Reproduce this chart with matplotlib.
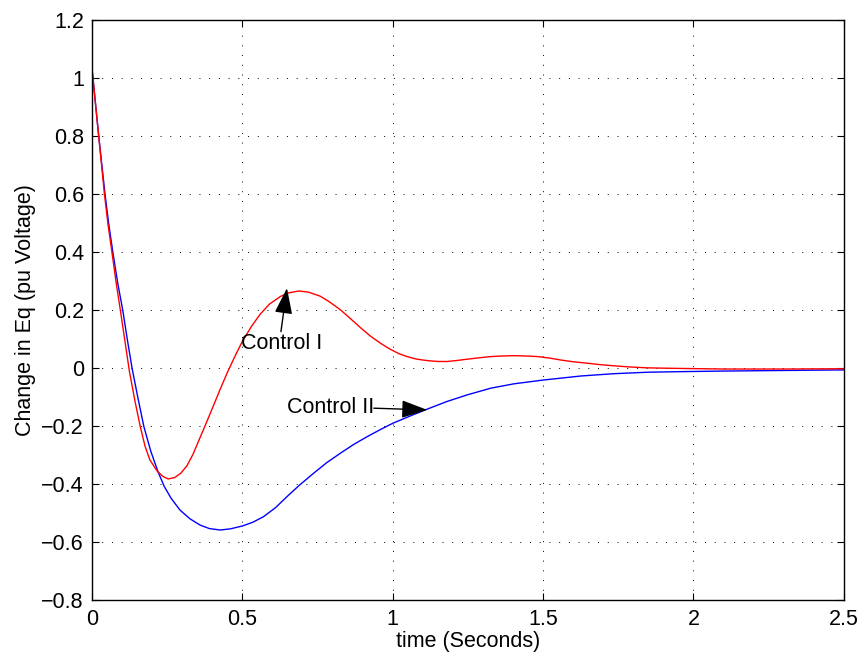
#response of Eq deviation for two control schemes

import matplotlib
matplotlib.use('Agg')
import matplotlib.pyplot as plt

#Control I readings (red)
t_c1 = [0.0, 0.011, 0.022, 0.041, 0.053, 0.066, 0.080, 0.094, 0.109, 0.124, 0.142,
        0.160, 0.176, 0.192, 0.215, 0.235, 0.253, 0.275, 0.295, 0.315, 0.335, 0.355,
        0.38, 0.404, 0.425, 0.448, 0.475, 0.5, 0.53, 0.559, 0.59, 0.626, 0.655,
        0.688, 0.72, 0.759, 0.79, 0.826, 0.86, 0.892, 0.925, 0.959, 0.99, 1.02,
        1.05, 1.08, 1.115, 1.15, 1.18, 1.21, 1.248, 1.29, 1.326, 1.365, 1.403,
        1.44, 1.481, 1.52, 1.559, 1.60, 1.648, 1.69, 1.737, 1.79, 1.848, 1.9,
        1.959, 2.1, 2.3, 2.5]
eq_c1 = [1.03, 0.915, 0.80, 0.60, 0.495, 0.40, 0.295, 0.20, 0.095, -0.01, -0.11,
         -0.20, -0.268, -0.315, -0.352, -0.372, -0.381, -0.376, -0.361, -0.336, -0.297, -0.248,
         -0.187, -0.127, -0.074, -0.018, 0.042, 0.094, 0.145, 0.187, 0.222, 0.248, 0.261,
         0.267, 0.263, 0.249, 0.229, 0.202, 0.171, 0.141, 0.112, 0.087, 0.067, 0.051,
         0.040, 0.032, 0.027, 0.024, 0.024, 0.027, 0.032, 0.037, 0.041, 0.043, 0.044,
         0.043, 0.041, 0.036, 0.029, 0.023, 0.018, 0.013, 0.009, 0.005, 0.002, 0.001,
         0.0, -0.002, -0.002, -0.001]

#Control II readings (blue)
t_c2 = [0.0, 0.011, 0.022, 0.043, 0.055, 0.069, 0.085, 0.102, 0.117, 0.133, 0.152,
        0.172, 0.195, 0.219, 0.24, 0.263, 0.292, 0.325, 0.359, 0.39, 0.426, 0.46,
        0.5, 0.535, 0.57, 0.61, 0.648, 0.69, 0.737, 0.78, 0.826, 0.87, 0.915,
        0.96, 1.0, 1.06, 1.115, 1.18, 1.248, 1.326, 1.403, 1.5, 1.626, 1.737,
        1.848, 1.959, 2.1, 2.3, 2.5]
eq_c2 = [1.03, 0.915, 0.80, 0.60, 0.50, 0.40, 0.295, 0.20, 0.10, 0.0, -0.10,
         -0.20, -0.285, -0.356, -0.407, -0.448, -0.488, -0.518, -0.54, -0.552, -0.557, -0.553,
         -0.543, -0.53, -0.511, -0.48, -0.442, -0.402, -0.361, -0.325, -0.292, -0.262, -0.235,
         -0.21, -0.189, -0.163, -0.14, -0.114, -0.091, -0.068, -0.053, -0.04, -0.026, -0.018,
         -0.013, -0.011, -0.009, -0.007, -0.005]

xticks = [0, 0.5, 1, 1.5, 2, 2.5]
yticks = [-0.8, -0.6, -0.4, -0.2, 0, 0.2, 0.4, 0.6, 0.8, 1, 1.2]

plt.rcParams['font.family'] = ['Liberation Sans', 'DejaVu Sans']
fs = 15.5

fig = plt.figure(figsize=(8.61, 6.57), dpi=100)
ax = fig.add_axes([0.107, 0.086, 0.873, 0.883])

ax.plot(t_c2, eq_c2, color='b', lw=1.0)
ax.plot(t_c1, eq_c1, color='r', lw=1.0)

ax.set_xlim(0, 2.5)
ax.set_ylim(-0.8, 1.2)
ax.set_xticks(xticks)
ax.set_yticks(yticks)
ax.set_xticklabels(['%g' % v for v in xticks])
ax.set_yticklabels(['%g' % v if v >= 0 else '\u2212%g' % -v for v in yticks])
ax.tick_params(direction='in', top=True, right=True, length=5, width=0.8,
               labelsize=fs, pad=6)
for s in ax.spines.values():
    s.set_linewidth(1.0)
ax.grid(True, color='k', lw=0.7, linestyle=(0, (1, 9)))

ax.set_xlabel('time (Seconds)', fontsize=fs, labelpad=1)
ax.set_ylabel('Change in Eq (pu Voltage)', fontsize=fs, labelpad=4)

#annotations
arrow = dict(arrowstyle='-|>,head_length=1.6,head_width=0.55', color='k',
             lw=1.0, shrinkA=0, shrinkB=0, mutation_scale=10)
ax.annotate('', xy=(0.648, 0.277), xytext=(0.628, 0.127), arrowprops=arrow)
ax.text(0.496, 0.086, 'Control I', fontsize=fs, va='center', ha='left')
ax.annotate('', xy=(1.115, -0.143), xytext=(0.937, -0.137), arrowprops=arrow)
ax.text(0.648, -0.134, 'Control II', fontsize=fs, va='center', ha='left')

fig.savefig('out.png', dpi=100)
